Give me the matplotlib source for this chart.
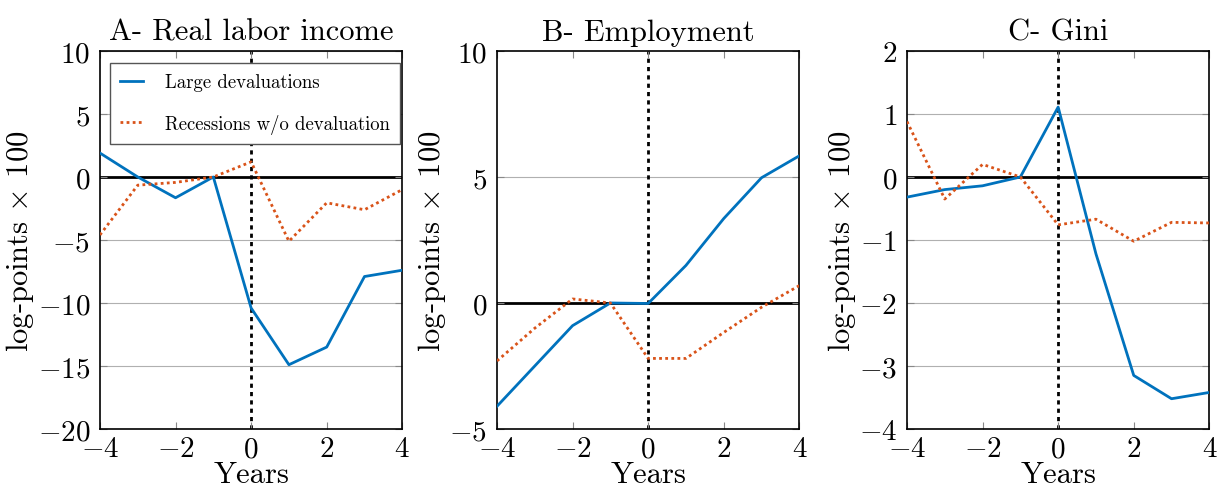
import matplotlib
matplotlib.use("Agg")
import matplotlib.pyplot as plt

plt.rcParams['font.family'] = 'serif'
plt.rcParams['font.serif'] = ['cmr10']
plt.rcParams['mathtext.fontset'] = 'cm'
plt.rcParams['axes.formatter.use_mathtext'] = True
plt.rcParams['axes.unicode_minus'] = True

# Data
years = [-4, -3, -2, -1, 0, 1, 2, 3, 4]

income_dev = [1.9, 0.0, -1.65, 0.0, -10.4, -14.9, -13.5, -7.9, -7.4]
income_rec = [-4.6, -0.65, -0.43, 0.0, 1.2, -5.1, -2.05, -2.6, -1.0]

employ_dev = [-4.1, -2.5, -0.9, 0.0, -0.02, 1.49, 3.35, 4.97, 5.84]
employ_rec = [-2.3, -1.0, 0.16, 0.0, -2.2, -2.2, -1.17, -0.17, 0.69]

gini_dev = [-0.32, -0.2, -0.14, 0.0, 1.11, -1.22, -3.15, -3.52, -3.42]
gini_rec = [0.88, -0.35, 0.2, 0.0, -0.76, -0.67, -1.02, -0.72, -0.73]

titles = ["A- Real labor income", "B- Employment", "C- Gini"]
ylims = [(-20, 10), (-5, 10), (-4, 2)]
yticks = [range(-20, 11, 5), range(-5, 11, 5), range(-4, 3, 1)]
grids = [range(-20, 11, 5), [5], range(-4, 3, 1)]
series = [(income_dev, income_rec), (employ_dev, employ_rec), (gini_dev, gini_rec)]

blue = '#0072BD'
orange = '#D95319'

fig = plt.figure(figsize=(12.25, 4.89), dpi=100)
lefts = [0.0816, 0.4057, 0.7404]

for i in range(3):
    ax = fig.add_axes([lefts[i], 0.1207, 0.2468, 0.773])
    dev, rec = series[i]
    for g in grids[i]:
        ax.axhline(g, color='#b0b0b0', lw=0.8, zorder=0)
    ax.axhline(0, color='black', lw=2, zorder=1)
    ax.axvline(0, color='black', lw=2, ls=(0, (1.5, 1.5)), zorder=1)
    ax.plot(years, dev, color=blue, lw=2, label='Large devaluations', zorder=3)
    ax.plot(years, rec, color=orange, lw=2, ls=(0, (1, 1.2)),
            label='Recessions w/o devaluation', zorder=3)
    ax.set_xlim(-4, 4)
    ax.set_ylim(*ylims[i])
    ax.set_xticks([-4, -2, 0, 2, 4])
    ax.set_yticks(list(yticks[i]))
    ax.tick_params(direction='in', top=True, right=True, labelsize=21,
                   length=5, width=0.8, pad=7, color='#888888')
    ax.tick_params(axis='x', pad=5)
    ax.set_title(titles[i], fontsize=22, pad=8)
    ax.set_xlabel('Years', fontsize=22, labelpad=-1)
    ax.set_ylabel(r'log-points $\times$ 100', fontsize=22, labelpad=1)
    for s in ax.spines.values():
        s.set_linewidth(1.2)
    if i == 0:
        leg = ax.legend(loc='upper left', fontsize=13.5, fancybox=False,
                        edgecolor='#555555', framealpha=1, borderpad=0.55,
                        labelspacing=1.2, handlelength=1.2, handletextpad=1.2,
                        borderaxespad=0, bbox_to_anchor=(0.033, 0.968))
        leg.get_frame().set_linewidth(1.0)

fig.savefig('out.png', dpi=100)
